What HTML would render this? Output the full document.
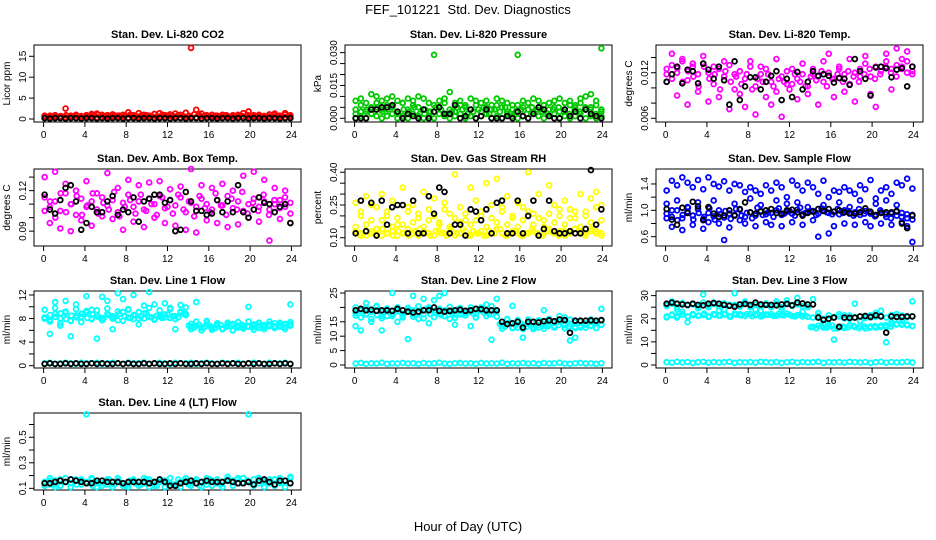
<!DOCTYPE html>
<html><head><meta charset="utf-8"><style>
html,body{margin:0;padding:0;background:#fff;}
svg{display:block;font-family:"Liberation Sans",Arial,sans-serif;}
</style></head><body>
<svg id="chart" width="936" height="540" viewBox="0 0 936 540" xmlns="http://www.w3.org/2000/svg">
<rect width="936" height="540" fill="#fff"/>
<text x="468" y="14" text-anchor="middle" font-size="13">FEF_101221&#160; Std. Dev. Diagnostics</text>
<text x="468" y="531" text-anchor="middle" font-size="13">Hour of Day (UTC)</text>
</svg>
<script>
const xTicks=[0,4,8,12,16,20,24];
// CO2
const co2Red1=[0.4,0.5,0.3,0.6,0.4,0.5,0.3,0.4,0.6,0.5,0.4,0.3,0.5,0.6,0.4,0.5,0.3,0.4,0.5,0.6,0.4,0.3,0.5,0.4,0.6,0.5,0.3,0.4,0.5,0.4,0.6,0.3,0.5,0.4,0.3,0.5,0.6,0.4,0.3,0.5,0.4,0.6,0.5,0.3,0.4,0.5,0.4,0.3];
const co2Red2=[0.8,0.7,0.9,0.6,2.5,0.8,1.0,0.7,0.9,1.2,1.3,1.0,0.9,1.1,0.8,1.0,1.6,0.9,1.4,1.0,0.8,1.2,1.4,0.9,1.1,1.3,1.0,1.5,17.0,2.2,1.3,0.9,1.0,0.8,1.0,0.7,0.9,1.0,1.4,1.8,0.9,1.0,0.7,1.1,1.3,0.8,1.4,0.9];
const co2Red3=[0.6,0.8,0.5,0.7,0.9,0.6,0.8,0.5,0.7,0.9,1.0,0.7,0.6,0.9,0.8,0.7,1.0,0.6,0.8,0.9,0.7,0.6,1.0,0.8,0.7,0.9,0.6,0.8,1.1,0.9,0.7,0.6,0.8,0.7,0.9,0.6,0.8,0.7,0.9,0.6,0.8,0.7,0.6,0.9,0.8,1.0,0.7];
const co2Black=[0.2,0.1,0.2,0.2,0.1,0.2,0.2,0.1,0.2,0.2,0.1,0.2,0.1,0.2,0.2,0.1,0.2,0.2,0.1,0.2,0.2,0.1,0.2,0.2,0.1,0.2,0.2,0.1,0.2,0.2,0.1,0.2,0.2,0.1,0.2,0.2,0.1,0.2,0.2,0.1,0.2,0.2,0.1,0.2,0.2,0.1,0.2,0.2];
// Pressure
const prsGreen1=[0.000,0.001,0.000,0.002,0.001,0.000,0.001,0.002,0.000,0.001,0.000,0.002,0.001,0.000,0.001,0.000,0.002,0.001,0.000,0.001,0.002,0.000,0.001,0.000,0.001,0.002,0.000,0.001,0.000,0.002,0.001,0.000,0.001,0.000,0.002,0.001,0.000,0.001,0.002,0.000,0.001,0.000,0.001,0.002,0.000,0.001,0.000,0.001];
const prsGreen2=[0.004,0.006,0.003,0.005,0.007,0.004,0.006,0.005,0.003,0.007,0.004,0.006,0.005,0.004,0.003,0.006,0.005,0.007,0.004,0.003,0.006,0.005,0.004,0.006,0.003,0.005,0.004,0.006,0.005,0.003,0.004,0.006,0.005,0.004,0.003,0.005,0.006,0.004,0.005,0.003,0.004,0.006,0.005,0.007,0.004,0.005,0.006,0.004];
const prsGreen3=[0.008,0.009,0.007,0.011,0.010,0.008,0.009,0.010,0.008,0.007,0.009,0.008,0.010,0.009,0.007,0.029,0.008,0.009,0.012,0.007,0.008,0.006,0.009,0.008,0.007,0.008,0.006,0.009,0.008,0.007,0.006,0.029,0.008,0.007,0.009,0.008,0.006,0.007,0.008,0.009,0.007,0.008,0.006,0.009,0.010,0.011,0.008,0.032];
const prsGreen4=[0.002,0.003,0.004,0.002,0.005,0.003,0.004,0.006,0.002,0.004,0.003,0.005,0.002,0.004,0.003,0.005,0.004,0.002,0.003,0.005,0.004,0.002,0.003,0.004,0.005,0.002,0.004,0.003,0.005,0.002,0.003,0.004,0.002,0.005,0.004,0.003,0.002,0.004,0.005,0.003,0.002,0.004,0.003,0.005,0.004,0.002,0.003];
const prsBlack=[0.000,0.000,0.000,0.004,0.004,0.005,0.005,0.006,0.003,0.000,0.002,0.001,0.000,0.004,0.000,0.003,0.005,0.002,0.002,0.006,0.000,0.001,0.004,0.000,0.001,0.004,0.000,0.000,0.000,0.001,0.000,0.003,0.001,0.000,0.002,0.005,0.004,0.001,0.000,0.000,0.004,0.001,0.003,0.000,0.004,0.002,0.001,0.000];
// Li-820 temp
const tmpMag1=[0.0125,0.013,0.012,0.0135,0.011,0.0128,0.0118,0.0132,0.012,0.0105,0.0125,0.0115,0.013,0.0098,0.0122,0.0112,0.0128,0.0102,0.0118,0.0125,0.0108,0.0095,0.0115,0.0122,0.0105,0.0112,0.0118,0.0102,0.0125,0.0115,0.0108,0.012,0.0112,0.0128,0.0118,0.0105,0.012,0.0125,0.0132,0.0115,0.0128,0.0122,0.0135,0.0125,0.013,0.0128,0.0135,0.0122];
const tmpMag2=[0.0108,0.0145,0.009,0.0138,0.0078,0.0132,0.0095,0.0142,0.0082,0.0128,0.0088,0.0135,0.0072,0.0118,0.0092,0.0075,0.0135,0.0065,0.0128,0.0088,0.0078,0.0138,0.0062,0.0105,0.0125,0.0085,0.0132,0.0092,0.0118,0.0078,0.0135,0.0145,0.0088,0.0125,0.0095,0.0138,0.0082,0.0115,0.0142,0.0092,0.0075,0.0128,0.0145,0.0098,0.0152,0.0138,0.0148,0.0118];
const tmpMag3=[0.0118,0.0112,0.0126,0.0108,0.0122,0.0115,0.0102,0.0128,0.0112,0.0118,0.0098,0.0122,0.0108,0.0115,0.0105,0.0118,0.0098,0.0112,0.0108,0.0118,0.0102,0.0112,0.0108,0.0098,0.0118,0.0108,0.0102,0.0115,0.011,0.0122,0.0102,0.0112,0.0118,0.0108,0.0122,0.0115,0.0108,0.0118,0.0125,0.0112,0.0118,0.0128,0.012,0.0115,0.0125,0.012,0.0128];
const tmpBlack=[0.0108,0.0118,0.0128,0.0106,0.0124,0.0122,0.0106,0.0132,0.0124,0.0112,0.0128,0.011,0.0078,0.0135,0.0084,0.0102,0.0114,0.0114,0.0098,0.0108,0.0116,0.0122,0.0084,0.0112,0.0088,0.0121,0.0098,0.0108,0.0122,0.0116,0.0118,0.0116,0.0107,0.0113,0.0112,0.0104,0.0138,0.0122,0.0112,0.009,0.0127,0.0128,0.0126,0.0114,0.0124,0.0126,0.0102,0.0128];
// Amb box temp
const ambMag1=[0.115,0.108,0.112,0.105,0.118,0.11,0.102,0.114,0.108,0.112,0.106,0.115,0.109,0.113,0.104,0.111,0.117,0.108,0.112,0.106,0.114,0.11,0.116,0.107,0.113,0.109,0.115,0.104,0.111,0.108,0.114,0.11,0.106,0.113,0.109,0.116,0.107,0.112,0.105,0.11,0.114,0.108,0.112,0.106,0.11,0.113,0.108,0.111];
const ambMag2=[0.13,0.096,0.134,0.092,0.125,0.09,0.12,0.098,0.127,0.094,0.118,0.101,0.133,0.099,0.122,0.091,0.128,0.097,0.124,0.093,0.126,0.1,0.127,0.096,0.121,0.094,0.123,0.091,0.136,0.089,0.124,0.098,0.122,0.096,0.125,0.093,0.12,0.095,0.131,0.1,0.134,0.097,0.128,0.083,0.122,0.099,0.12,0.096];
const ambMag3=[0.105,0.112,0.1,0.118,0.104,0.11,0.116,0.102,0.109,0.118,0.103,0.111,0.106,0.119,0.101,0.108,0.113,0.103,0.117,0.105,0.11,0.102,0.115,0.108,0.103,0.117,0.106,0.112,0.101,0.116,0.107,0.104,0.118,0.109,0.102,0.114,0.106,0.119,0.103,0.111,0.105,0.117,0.102,0.113,0.107,0.115,0.103];
const ambBlack=[0.117,0.106,0.103,0.113,0.122,0.124,0.112,0.091,0.096,0.108,0.104,0.104,0.112,0.116,0.102,0.106,0.104,0.115,0.097,0.112,0.114,0.117,0.117,0.111,0.113,0.09,0.091,0.119,0.112,0.105,0.105,0.102,0.103,0.113,0.104,0.112,0.104,0.124,0.104,0.1,0.106,0.115,0.111,0.11,0.104,0.108,0.11,0.096];
// RH
const rhYel1=[0.12,0.11,0.13,0.12,0.14,0.11,0.12,0.13,0.11,0.12,0.14,0.12,0.11,0.13,0.12,0.11,0.13,0.12,0.14,0.11,0.12,0.13,0.11,0.12,0.13,0.11,0.12,0.14,0.12,0.11,0.13,0.12,0.11,0.12,0.13,0.11,0.12,0.14,0.12,0.13,0.11,0.12,0.14,0.13,0.12,0.14,0.13,0.12];
const rhYel2=[0.26,0.22,0.29,0.18,0.24,0.3,0.2,0.27,0.16,0.33,0.22,0.25,0.19,0.31,0.23,0.28,0.17,0.26,0.21,0.39,0.24,0.18,0.33,0.27,0.2,0.35,0.25,0.37,0.22,0.29,0.19,0.26,0.24,0.4,0.21,0.3,0.18,0.34,0.25,0.2,0.27,0.23,0.19,0.3,0.22,0.28,0.31,0.25];
const rhYel3=[0.15,0.2,0.16,0.25,0.14,0.18,0.22,0.15,0.19,0.16,0.24,0.17,0.21,0.15,0.18,0.2,0.16,0.23,0.15,0.19,0.17,0.21,0.16,0.18,0.22,0.15,0.19,0.17,0.24,0.16,0.2,0.15,0.18,0.22,0.16,0.19,0.15,0.21,0.17,0.23,0.16,0.19,0.22,0.15,0.2,0.17,0.24,0.18];
const rhYel4=[0.13,0.12,0.11,0.13,0.12,0.14,0.12,0.11,0.13,0.12,0.11,0.13,0.14,0.12,0.11,0.13,0.12,0.11,0.13,0.12,0.14,0.11,0.13,0.12,0.11,0.13,0.12,0.14,0.11,0.12,0.13,0.11,0.12,0.14,0.12,0.11,0.13,0.12,0.11,0.13,0.12,0.14,0.12,0.11,0.13,0.12,0.11];
const rhBlack=[0.12,0.27,0.13,0.26,0.11,0.27,0.16,0.24,0.25,0.25,0.12,0.27,0.12,0.12,0.29,0.21,0.33,0.31,0.12,0.16,0.16,0.11,0.23,0.22,0.18,0.23,0.12,0.26,0.27,0.12,0.12,0.27,0.12,0.2,0.27,0.11,0.14,0.27,0.13,0.12,0.12,0.13,0.12,0.12,0.14,0.41,0.16,0.23];
// Sample flow
const sfBlue1=[0.95,0.9,1.0,0.88,0.98,0.92,1.02,0.87,0.96,0.91,1.0,0.89,0.95,0.93,1.01,0.9,0.97,0.92,0.99,0.94,0.96,1.0,0.93,0.98,0.95,1.01,0.94,0.97,0.99,0.95,1.0,0.96,0.98,0.94,1.0,0.95,0.97,0.93,0.99,0.95,0.92,0.97,0.9,0.95,0.92,0.96,0.88,0.93];
const sfBlue2=[1.3,1.45,1.38,1.5,1.42,1.35,1.46,1.32,1.5,1.4,1.36,1.44,1.3,1.4,1.38,1.28,1.35,1.3,1.25,1.38,1.3,1.42,1.35,1.2,1.45,1.38,1.3,1.42,1.35,1.25,1.45,1.2,1.3,1.28,1.35,1.3,1.25,1.38,1.32,1.46,1.18,1.3,1.35,1.25,1.42,1.38,1.48,1.33];
const sfBlue3=[1.1,0.75,1.15,0.7,1.05,0.78,1.12,0.72,0.82,1.15,0.8,0.55,0.74,1.1,0.85,0.8,1.18,0.76,1.08,0.82,0.78,1.15,0.76,1.1,0.82,1.12,0.78,1.05,0.85,0.6,1.08,0.65,0.76,1.12,0.8,1.05,0.78,1.15,0.82,0.76,1.1,0.8,1.15,0.78,1.08,0.82,0.76,0.52];
const sfBlue4=[0.88,1.0,0.85,0.93,1.04,0.86,0.96,0.9,1.03,0.86,0.94,0.99,0.87,1.02,0.92,0.96,0.88,1.04,0.93,0.97,0.9,1.03,0.95,0.99,0.92,1.04,0.96,0.99,0.93,1.03,0.97,0.94,1.02,0.96,0.99,0.92,1.02,0.95,0.98,0.91,1.0,0.94,0.88,0.98,0.9,0.94,0.86];
const sfBlack=[1.02,0.86,0.78,1.04,0.96,1.13,1.06,0.85,1.05,0.95,0.9,0.92,1.0,0.92,1.02,1.12,0.97,0.95,0.98,1.0,1.02,0.96,0.95,1.0,1.01,0.97,0.92,0.96,0.98,1.02,0.99,1.02,0.98,1.0,0.97,0.96,0.95,0.97,1.03,0.98,0.93,0.96,0.97,0.97,0.99,0.8,0.73,0.92];
// Line 1
const l1Cyan1=[8.2,7.8,8.8,8.0,9.2,7.6,8.5,8.3,9.0,7.9,8.6,8.1,8.8,8.4,7.7,9.1,8.2,8.6,8.0,8.9,8.3,7.9,8.5,8.7,8.1,8.4,9.0,8.6,6.6,6.8,6.4,7.0,6.5,6.9,6.3,6.7,7.1,6.5,6.8,6.6,7.0,6.4,6.9,6.7,7.2,6.6,7.0,6.8];
const l1Cyan2=[9.5,7.5,9.8,7.2,9.0,7.6,9.6,7.4,9.3,8.0,9.4,7.7,9.7,8.0,9.2,7.6,9.5,7.9,9.1,8.0,9.8,7.8,9.4,8.2,9.6,7.9,9.2,8.8,6.2,7.5,6.0,7.4,6.1,7.2,6.2,7.3,6.0,7.4,6.3,7.5,6.1,7.3,6.2,7.5,6.4,7.3,6.2,7.4];
const l1Cyan3=[8.0,5.4,10.8,6.8,11.0,5.0,10.4,8.8,11.8,9.5,4.6,11.7,11.0,6.2,12.3,11.3,9.6,12.0,7.0,10.2,12.5,10.4,8.3,10.6,9.8,6.2,10.3,9.9,7.1,10.8,6.5,7.6,6.4,6.8,6.2,7.0,6.0,6.8,6.5,10.0,6.8,7.2,6.6,7.0,6.5,6.9,7.1,10.4];
const l1Cyan4=[8.0,8.6,8.3,8.9,7.9,8.5,8.2,8.8,8.1,8.7,8.3,8.0,8.6,8.2,8.8,8.4,8.1,8.6,8.3,8.9,8.2,8.5,8.1,8.7,8.4,8.2,8.8,6.8,6.5,6.9,6.6,6.7,6.4,6.9,6.6,6.8,6.5,6.9,6.7,6.5,6.8,6.6,7.0,6.7,6.9,6.6,7.0];
const l1CyanLow=[0.4,0.5,0.3,0.4,0.5,0.4,0.3,0.5,0.4,0.4,0.5,0.3,0.4,0.5,0.4,0.3,0.5,0.4,0.4,0.5,0.3,0.4,0.5,0.4,0.3,0.5,0.4,0.4,0.5,0.3,0.4,0.5,0.4,0.3,0.5,0.4,0.4,0.5,0.3,0.4,0.5,0.4,0.3,0.5,0.4,0.4,0.5,0.3];
const l1Black=[0.3,0.4,0.3,0.3,0.4,0.3,0.4,0.3,0.3,0.4,0.3,0.4,0.3,0.3,0.4,0.3,0.4,0.3,0.3,0.4,0.3,0.4,0.3,0.3,0.4,0.3,0.4,0.3,0.3,0.4,0.3,0.4,0.3,0.3,0.4,0.3,0.4,0.3,0.3,0.4,0.3,0.4,0.3,0.3,0.4,0.3,0.4,0.3];
// Line 2
const l2Cyan1=[18,19.5,17.5,18.5,19,17,18.8,17.8,19.2,17.5,18.5,19,18,17.6,19.5,18.2,17.8,19,18.5,17.5,19.2,18,18.6,17.8,19,18.2,17.6,18.8,13.5,14.5,13,15,13.8,14.2,13.2,15.2,13.6,14.8,13.4,15,13.8,14.2,13.2,15,14,13.6,15.2,14];
const l2Cyan2=[20,16.5,19.8,16,20.2,16.2,19.6,17,20,16.5,19.8,16.8,20.4,16.2,20,16.6,19.5,17,20.2,16.4,19.8,17.2,20,16.6,19.6,17,20.4,16.8,12.6,15.8,12.8,15.6,12.5,15.8,12.9,15.5,12.6,16,13,15.6,12.7,15.8,12.8,15.4,13,15.8,12.8,15.5];
const l2Cyan3=[13.5,12,21.5,15,20.5,12,17,25,15,16.8,9,24,16,23,14.5,22.5,24,25,16,14,17.5,18,13.5,16.5,20,21,8.8,23,14,16,20.5,13,9.5,14.5,12.5,13,19,14,13.5,17,16.5,8.5,9.5,13,14.5,15,14.8,19.5];
const l2Cyan4=[17.2,18.8,17.8,19.2,17.4,18.4,19,17.6,18.6,17.9,19.1,17.5,18.3,19.3,17.7,18.9,17.4,18.7,18.1,19.2,17.6,18.5,17.9,19.0,18.2,17.7,18.9,14.2,13.4,14.6,13.8,14.4,13.3,14.8,13.7,14.5,13.5,14.7,13.9,14.3,13.4,14.8,13.6,14.5,13.8,14.6,13.9];
const l2CyanLow=[0.5,0.7,0.4,0.6,0.5,0.8,0.4,0.6,0.5,0.7,0.5,0.6,0.4,0.7,0.5,0.6,0.8,0.5,0.4,0.6,0.7,0.5,0.6,0.4,0.7,0.5,0.6,0.5,0.8,0.4,0.6,0.5,0.7,0.5,0.6,0.4,0.7,0.5,0.6,0.8,0.5,0.4,0.6,0.7,0.5,0.6,0.4,0.6];
const l2Black=[19,19.5,19,19.2,18.8,19,19,18.8,19.5,19,18.5,18.2,18.5,19,19,20,18.8,18.5,18.8,19,19.2,18.8,19,19.5,19.4,19,19,19,15,14.2,14.5,15,13,15,15,14.8,15.2,15.5,15.2,15.8,15.6,11.2,15.4,15.4,15.4,15.5,15.4,15.6];
// Line 3
const l3Cyan1=[25.5,26.5,25,26.8,25.8,26.2,25.2,27,25.6,26.4,25.4,26.6,25.8,26,25.2,26.8,25.6,26.2,25.4,26.6,25.8,26.4,25,26.8,25.6,26.2,25.4,26,20.5,21.2,20,21.5,20.8,21,20.2,21.4,20.6,21,20.3,21.5,20.8,21.2,20.5,21.6,20.8,21.4,20.6,21];
const l3Cyan2=[21,21.5,20.5,21.8,21,22,21.2,21.6,20.8,22,21.4,21.8,21,22.2,21.6,21.2,22,21.5,21,21.8,22,21.4,21.6,22.2,21.2,21.6,21,20.8,16.5,17,16.2,16.8,15.8,16.5,16,17.2,16.4,16.8,15.8,16.6,16.2,17,16.4,17.6,17.8,17.4,17.2,16.8];
const l3Cyan3=[26,27.5,24,23,18.5,26.5,24.5,30.5,25,27,23.5,24,26,31,22,27.5,25,24,23.5,26,25,27.5,24,28,26,29,23,25,28.5,22.5,18,17.5,11,22,21.5,20,26.5,19,21,20.5,22.5,23.5,9.8,18.5,22,19,17.5,27.5];
const l3Cyan4=[20.6,21.8,21.2,22.0,20.8,21.6,21.4,22.2,21.0,21.7,21.3,22.1,20.9,21.8,21.5,22.0,21.1,21.9,21.4,21.7,21.2,22.1,21.5,21.8,21.0,21.6,21.3,16.4,15.9,16.8,16.2,17.0,15.8,16.6,16.3,16.9,15.9,16.7,16.1,16.8,16.4,17.2,16.6,17.5,17.8,17.2,16.9];
const l3CyanLow=[1.2,1.0,1.4,1.1,1.3,0.9,1.2,1.4,1.0,1.3,1.1,1.2,1.4,0.9,1.2,1.1,1.3,1.0,1.4,1.2,1.1,1.3,0.9,1.2,1.4,1.0,1.3,1.1,1.2,1.4,0.9,1.2,1.1,1.3,1.0,1.4,1.2,1.1,1.3,0.9,1.2,1.4,1.0,1.3,1.1,1.2,1.4,1.1];
const l3Black=[26.5,27,26.5,26.2,26,26.5,26,25.8,26.5,26.8,26.5,26,25.6,25.2,26.2,26.4,26,27,26.2,26,26,25.8,26.2,26.4,25.8,27,26.6,26.2,26.2,20.5,19.5,20,20.5,16.5,20.5,20.4,20.5,21,21.2,20.8,21.5,21,14,21,20.8,20.8,21,21];
// Line 4
const l4Cyan1=[0.14,0.16,0.13,0.17,0.15,0.14,0.16,0.13,0.15,0.17,0.14,0.16,0.13,0.15,0.16,0.14,0.13,0.16,0.15,0.14,0.17,0.13,0.15,0.16,0.14,0.13,0.15,0.16,0.14,0.17,0.15,0.13,0.16,0.14,0.15,0.17,0.16,0.14,0.18,0.15,0.17,0.14,0.16,0.15,0.17,0.14,0.16,0.18];
const l4Cyan2=[0.12,0.18,0.11,0.12,0.18,0.11,0.17,0.17,0.68,0.18,0.11,0.12,0.17,0.11,0.18,0.12,0.11,0.17,0.12,0.18,0.11,0.12,0.17,0.11,0.18,0.12,0.11,0.18,0.12,0.17,0.11,0.18,0.12,0.17,0.11,0.19,0.12,0.18,0.18,0.68,0.12,0.18,0.11,0.17,0.12,0.18,0.11,0.19];
const l4Cyan3=[0.15,0.13,0.16,0.12,0.15,0.17,0.13,0.16,0.14,0.12,0.16,0.14,0.17,0.13,0.15,0.12,0.16,0.14,0.13,0.17,0.15,0.12,0.16,0.14,0.13,0.17,0.15,0.13,0.16,0.12,0.15,0.17,0.14,0.13,0.16,0.15,0.17,0.14,0.16,0.13,0.18,0.15,0.14,0.17,0.15,0.16,0.14];
const l4Black=[0.14,0.14,0.15,0.16,0.15,0.17,0.16,0.15,0.14,0.14,0.16,0.16,0.15,0.15,0.15,0.14,0.15,0.15,0.15,0.15,0.14,0.15,0.17,0.15,0.12,0.12,0.14,0.15,0.16,0.14,0.15,0.16,0.15,0.15,0.15,0.16,0.15,0.14,0.14,0.15,0.13,0.16,0.17,0.15,0.13,0.16,0.16,0.14];

const NS="http://www.w3.org/2000/svg";
const svg=document.getElementById('chart');
const colX=[34,345,656], rowY=[45,169,291,413], PW=267, PH=77;
function el(tag,attrs,parent){const e=document.createElementNS(NS,tag);for(const k in attrs)e.setAttribute(k,attrs[k]);(parent||svg).appendChild(e);return e;}
function fmt(v,d){return v.toFixed(d);}

const panels=[
 {key:'co2',title:'Stan. Dev. Li-820 CO2',ylab:'Licor ppm',c:0,r:0,ymin:-0.72,ymax:17.7,ticks:[0,5,10,15],labels:[0,5,10,15],dec:0,series:[[co2Red1,'#ff0000'],[co2Red2,'#ff0000'],[co2Red3,'#ff0000'],[co2Black,'#000']]},
 {key:'pressure',title:'Stan. Dev. Li-820 Pressure',ylab:'kPa',c:1,r:0,ymin:-0.0017,ymax:0.0335,ticks:[0,0.005,0.01,0.015,0.02,0.025,0.03],labels:[0,0.015,0.03],dec:3,series:[[prsGreen1,'#00c800'],[prsGreen2,'#00c800'],[prsGreen3,'#00c800'],[prsGreen4,'#00c800'],[prsBlack,'#000']]},
 {key:'li820-temp',title:'Stan. Dev. Li-820 Temp.',ylab:'degrees C',c:2,r:0,ymin:0.00551,ymax:0.01565,ticks:[0.006,0.008,0.01,0.012,0.014],labels:[0.006,0.012],dec:3,series:[[tmpMag1,'#ff00ff'],[tmpMag2,'#ff00ff'],[tmpMag3,'#ff00ff'],[tmpBlack,'#000']]},
 {key:'amb-box-temp',title:'Stan. Dev. Amb. Box Temp.',ylab:'degrees C',c:0,r:1,ymin:0.079,ymax:0.136,ticks:[0.09,0.1,0.11,0.12,0.13],labels:[0.09,0.12],dec:2,series:[[ambMag1,'#ff00ff'],[ambMag2,'#ff00ff'],[ambMag3,'#ff00ff'],[ambBlack,'#000']]},
 {key:'gas-rh',title:'Stan. Dev. Gas Stream RH',ylab:'percent',c:1,r:1,ymin:0.062,ymax:0.415,ticks:[0.1,0.15,0.2,0.25,0.3,0.35,0.4],labels:[0.1,0.25,0.4],dec:2,series:[[rhYel1,'#ffff00'],[rhYel2,'#ffff00'],[rhYel3,'#ffff00'],[rhYel4,'#ffff00'],[rhBlack,'#000']]},
 {key:'sample-flow',title:'Stan. Dev. Sample Flow',ylab:'ml/min',c:2,r:1,ymin:0.459,ymax:1.627,ticks:[0.6,0.8,1.0,1.2,1.4],labels:[0.6,1.0,1.4],dec:1,series:[[sfBlue1,'#0000ff'],[sfBlue2,'#0000ff'],[sfBlue3,'#0000ff'],[sfBlue4,'#0000ff'],[sfBlack,'#000']]},
 {key:'line1-flow',title:'Stan. Dev. Line 1 Flow',ylab:'ml/min',c:0,r:2,ymin:-0.39,ymax:12.68,ticks:[0,2,4,6,8,10,12],labels:[0,4,8,12],dec:0,series:[[l1Cyan1,'#00ffff'],[l1Cyan2,'#00ffff'],[l1Cyan3,'#00ffff'],[l1Cyan4,'#00ffff'],[l1CyanLow,'#00ffff'],[l1Black,'#000']]},
 {key:'line2-flow',title:'Stan. Dev. Line 2 Flow',ylab:'ml/min',c:1,r:2,ymin:-1.05,ymax:25.7,ticks:[0,5,10,15,20,25],labels:[0,5,10,15,25],dec:0,series:[[l2Cyan1,'#00ffff'],[l2Cyan2,'#00ffff'],[l2Cyan3,'#00ffff'],[l2Cyan4,'#00ffff'],[l2CyanLow,'#00ffff'],[l2Black,'#000']]},
 {key:'line3-flow',title:'Stan. Dev. Line 3 Flow',ylab:'ml/min',c:2,r:2,ymin:-1.3,ymax:32.0,ticks:[0,5,10,15,20,25,30],labels:[0,10,20,30],dec:0,series:[[l3Cyan1,'#00ffff'],[l3Cyan2,'#00ffff'],[l3Cyan3,'#00ffff'],[l3Cyan4,'#00ffff'],[l3CyanLow,'#00ffff'],[l3Black,'#000']]},
 {key:'line4-flow',title:'Stan. Dev. Line 4 (LT) Flow',ylab:'ml/min',c:0,r:3,ymin:0.087,ymax:0.69,ticks:[0.1,0.2,0.3,0.4,0.5,0.6],labels:[0.1,0.3,0.5],dec:1,series:[[l4Cyan1,'#00ffff'],[l4Cyan2,'#00ffff'],[l4Cyan3,'#00ffff'],[l4Black,'#000']]}
];

panels.forEach(p=>{
 const L=colX[p.c], T=rowY[p.r], B=T+PH, R=L+PW;
 const xs=h=>L+9.6+h/24*(PW-19.2);
 const ys=v=>B-(v-p.ymin)/(p.ymax-p.ymin)*PH;
 const g=el('g',{});
 
 
 const t=el('text',{x:(L+R)/2,y:T-7,'text-anchor':'middle','font-size':11,'font-weight':'bold'},g);
 t.textContent=p.title;
 
 
 const yl=el('text',{x:0,y:0,'text-anchor':'middle','font-size':10,transform:`translate(${L-24},${(T+B)/2}) rotate(-90)`},g);
 yl.textContent=p.ylab;
 
 
 const frame=el('rect',{x:L,y:T,width:PW,height:PH,fill:'none',stroke:'#000','stroke-width':1},g);
 
 
 xTicks.forEach(h=>{
  el('line',{x1:xs(h),x2:xs(h),y1:B,y2:B+5,stroke:'#000'},g);
  const tx=el('text',{x:xs(h),y:B+16,'text-anchor':'middle','font-size':10},g);
  tx.textContent=h;
  
  
 });
 p.ticks.forEach(v=>{
  el('line',{x1:L,x2:L-5,y1:ys(v),y2:ys(v),stroke:'#000'},g);
 });
 p.labels.forEach(v=>{
  const ty=el('text',{x:0,y:0,'text-anchor':'middle','font-size':10,transform:`translate(${L-8},${ys(v)}) rotate(-90)`},g);
  ty.textContent=fmt(v,p.dec);
  
  
 });
 p.series.forEach(([vals,col],si)=>{
  const sg=el('g',{fill:'none',stroke:col,'stroke-width':1.8},g);
  
  
  const n=vals.length;
  vals.forEach((v,i)=>{
   const h=0.1+i*23.8/(n-1);
   const c=el('circle',{cx:xs(h),cy:ys(v),r:2.4},sg);
   
   
  });
 });
});
</script>
</body></html>
